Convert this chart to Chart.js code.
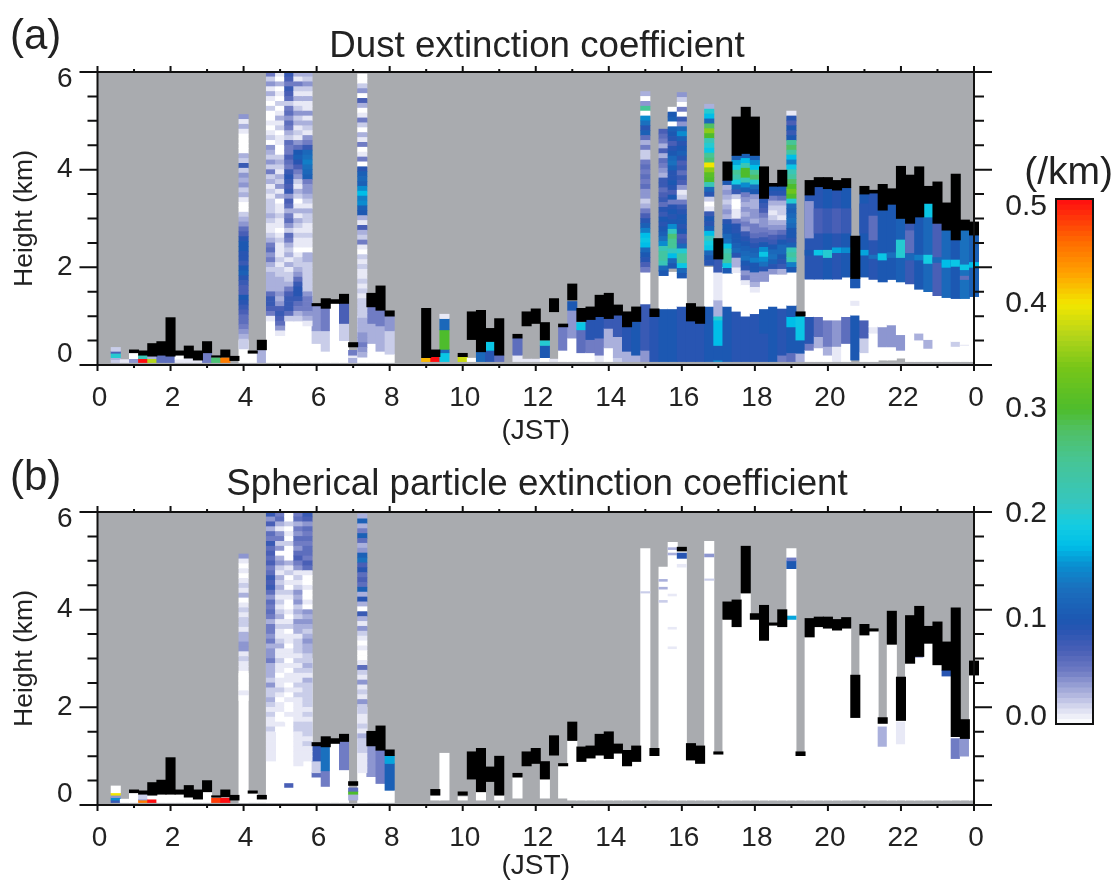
<!DOCTYPE html>
<html>
<head>
<meta charset="utf-8">
<title>Dust and spherical particle extinction</title>
<script src="https://cdn.jsdelivr.net/npm/chart.js@4"></script>
<style>
html, body { margin: 0; padding: 0; background: #fff; overflow: hidden; }
canvas { position: absolute; filter: blur(0.6px); }
</style>
</head>
<body>
<canvas id="panelA" style="left:0;top:0"></canvas>
<canvas id="panelB" style="left:0;top:440px"></canvas>
<canvas id="scaleBar" style="left:1000px;top:150px"></canvas>
<script>
// extinction values are in 0.01 /km, columns are quarter hours (col 16 = 4 JST), heights in km
const yTicks = [0, 2, 4, 6];
const scaleLabels = [0, 0.1, 0.2, 0.3, 0.4, 0.5];
const scaleLevels = [0,.5,1,1.5,2,2.5,3,3.5,4,4.5,5,5.5,6,6.5,7,7.5,8,8.5,9,9.5,10,10.5,11,11.5,12,12.5,13,13.5,14,14.5,15,15.5,16,16.5,17,17.5,18,18.5,19,19.5,20,20.5,21,21.5,22,22.5,23,23.5,24,24.5,25,25.5,26,26.5,27,27.5,28,28.5,29,29.5,30,30.5,31,31.5,32,32.5,33,33.5,34,34.5,35,35.5,36,36.5,37,37.5,38,38.5,39,39.5,40,40.5,41,41.5,42,42.5,43,43.5,44,44.5,45,45.5,46,46.5,47,47.5,48,48.5,49,49.5];

// [col, bottom, top]
const dustClouds = [[4,.25,.31],[5,.2,.29],[6,.18,.44],[7,.2,.48],[8,.18,.97],[9,.2,.29],[10,.14,.39],[11,.1,.29],[12,.25,.48],[13,.16,.19],[14,.16,.31],[15,.09,.18],[17,.24,.29],[18,.31,.51],
[24,1.21,1.26],[25,1.16,1.36],[26,1.26,1.34],[27,1.26,1.45],[28,.37,.46],[30,1.19,1.47],[31,1.12,1.62],[32,1,1.11],[36,.15,1.16],[37,.17,.31],[40,.17,.24],[41,.52,1.09],[42,.27,1.12],[43,.48,.75],[44,.2,.95],
[46,.55,.63],[47,.8,1.09],[48,.85,1.15],[49,.51,.87],[50,1.09,1.36],[51,.78,.84],[52,1.33,1.66],[53,.89,1.16],[54,.93,1.19],[55,.99,1.43],[56,.95,1.47],[57,1.02,1.23],[58,.78,1.09],[59,.89,1.19],[61,.99,1.15],
[65,.9,1.26],[66,.85,1.19],[68,2.17,2.59],[69,3.78,4.16],[70,4.29,5.08],[71,4.33,5.28],[72,4.29,5.08],[73,3.41,4.06],[74,3.66,3.72],[75,3.66,3.99],[77,1,1.09],[78,3.48,3.78],[79,3.65,3.84],[80,3.61,3.84],[81,3.58,3.78],[82,3.63,3.82],
[83,1.77,2.64],[84,3.5,3.66],[85,3.52,3.58],[86,3.17,3.7],[87,3.29,3.61],[88,3,4.07],[89,2.9,3.89],[90,3.03,4.06],[91,3.31,3.66],[92,2.9,3.75],[93,2.76,3.32],[94,2.56,3.91],[95,2.76,2.97],[96,2.66,2.93]];

// [col, bottom, top, value]
const dustLayers = [
[2,.05,.11,2],[2,.11,.15,3],[2,.15,.24,20],[2,.24,.28,7],[2,.28,.36,2],[3,.05,.11,1],[4,.05,.13,4],[4,.13,.25,0],[5,.05,.13,50],[5,.13,.2,22],[6,.05,.13,37],[6,.13,.18,3],[7,.05,.2,6],[8,.05,.18,6],[9,.05,.12,1],[9,.12,.2,0],[10,.05,.14,1],[11,.05,.1,1],
[12,.05,.25,5],[13,.05,.15,27],[14,.05,.15,45],[16,.05,.5,0],[17,.05,.24,0],[18,.05,.31,3],
[19,.05,1.5,0],[20,.05,1.5,0],[21,.05,1.5,0],[22,.05,1.5,0],[23,.05,1.5,0],
[24,.05,.44,0],[24,.44,.7,2],[24,.7,1.21,4],[25,.05,.28,0],[25,.28,.7,2],[25,.7,1.16,5],[26,.05,1.26,0],[27,.05,.5,0],[27,.5,.85,2],[27,.85,1.26,7],[28,.05,.15,3],[28,.15,.2,1],[28,.2,.3,5],[29,.05,1,0],
[30,.05,.44,0],[30,.44,.85,3],[30,.85,1.19,5],[31,.05,.28,0],[31,.28,.8,3],[31,.8,1.12,5],[32,.05,.22,0],[32,.22,.7,2],[32,.7,1,4],
[36,.07,.15,42],[37,.07,.17,50],[38,.07,.25,18],[38,.25,.32,12],[38,.32,.72,30],[38,.72,.95,12],[38,.95,1.04,1],[40,.07,.17,38],[41,.07,.14,0],[42,.07,.27,12],[43,.07,.3,9],[43,.3,.48,18],[44,.07,.2,6],
[46,.07,.2,1],[46,.2,.55,6],[47,.07,.12,1],[48,.07,.12,1],[49,.07,.15,0],[49,.15,.4,10],[49,.4,.5,20],[50,.07,.12,1],[51,.07,.3,0],[51,.3,.78,5],[52,.07,.55,0],[52,.55,1.12,4],[52,1.12,1.3,10],
[53,.07,.25,0],[53,.25,.72,6],[53,.72,.87,18],[54,.07,.25,0],[54,.25,.52,5],[54,.52,.93,9],[55,.07,.2,1],[55,.2,.55,5],[55,.55,.99,9],[56,.07,.35,0],[56,.35,.75,3],[56,.75,.95,8],[57,.07,.15,2],[57,.15,.58,3],[57,.58,1.02,8],[58,.07,.28,3],[58,.28,.78,9],[59,.07,.2,3],[59,.2,.89,10],
[60,.07,.3,4],[60,.3,1.25,8],[60,1.25,1.9,0],[61,.07,.99,9],[62,.07,1.15,10],[62,1.15,1.9,0],[63,.07,1.15,10],[63,1.15,1.9,0],[64,.07,1.2,9],[64,1.2,1.9,0],[65,.07,.9,9],[66,.07,.85,9],
[67,.07,1.2,10],[67,1.2,2,0],[68,.07,.1,15],[68,.1,.4,10],[68,.4,.92,17],[68,.92,1,20],[68,1,1.33,3],[68,1.33,1.9,1],[68,1.9,2.17,8],
[69,.07,1.2,10],[69,1.2,2,0],[70,.07,1.1,9],[70,1.1,1.9,0],[71,.07,1,9],[71,1,2,0],[72,.07,1.05,9],[72,1.05,1.9,0],[73,.07,.65,9],[73,.65,1.15,10],[73,1.15,1.95,0],[74,.07,1.2,10],[74,1.2,1.9,0],[75,.07,.2,5],[75,.2,1.16,9],[75,1.16,1.85,0],
[76,.07,.25,6],[76,.25,.78,10],[76,.78,.99,17],[76,.99,1.22,10],[76,1.22,1.9,0],[77,.07,.24,3],[77,.24,.51,10],[77,.51,1,18],
[78,.07,.3,0],[78,.3,.44,5],[78,.44,.99,9],[78,.99,1.76,0],[79,.07,.35,0],[79,.35,.58,3],[79,.58,.99,6],[79,.99,1.76,0],[80,.07,.2,0],[80,.2,.38,3],[80,.38,.92,5],[80,.92,1.76,0],[81,.07,.38,1],[81,.38,.92,4],[81,.92,1.76,0],[82,.07,.44,0],[82,.44,.99,6],[82,.99,1.8,0],
[83,.1,1.02,10],[83,1.02,1.22,0],[83,1.22,1.32,1],[83,1.32,1.58,0],[83,1.58,1.77,10],[84,.07,.25,0],[84,.25,.55,2],[84,.55,.92,7],[84,.92,1.8,0],[85,.07,.65,0],[85,.65,.78,1],[85,.78,1.75,0],
[86,.1,.37,0],[86,.37,.78,4],[86,.78,1.7,0],[87,.1,.37,0],[87,.37,.82,4],[87,.82,1.75,0],[88,.14,.3,0],[88,.3,.62,4],[88,.62,1.7,0],[89,.07,1.66,0],[90,.07,.51,0],[90,.51,.65,3],[90,.65,1.55,0],[91,.07,.34,0],[91,.34,.52,3],[91,.52,1.5,0],[92,.07,1.42,0],[93,.07,1.38,0],[94,.07,.38,0],[94,.38,.48,2],[94,.48,1.36,0],[95,.07,.4,0],[95,.4,.42,1],[95,.42,1.36,0],[96,.07,1.4,0],
[78,1.76,3.48,9],[78,2.6,3.35,4],[78,2.25,2.35,10],[79,1.76,3.65,9],[79,2.7,3.2,7],[79,2.25,2.35,18],[80,1.76,3.61,10],[80,2.7,3.2,8],[80,2.2,2.35,20],[81,1.76,3.58,9],[81,2.7,3.2,7],[81,2.3,2.4,16],[82,1.8,3.63,10],[82,2.7,3.2,8],[82,2.3,2.4,15],[83,1.58,1.77,10],[84,1.8,3.5,10],[84,2.7,3.3,9],[84,2.25,2.35,16],[85,1.75,3.52,9],[85,2.56,3.05,6],[85,2.18,2.25,13],
[86,1.7,3.17,10],[86,2.15,2.28,18],[87,1.75,3.29,10],[87,2.2,2.3,13],[88,1.7,3,11],[88,2.2,2.56,20],[89,1.66,2.9,8],[89,2.3,2.75,6],[89,2.15,2.28,12],[90,1.55,3.03,10],[90,2.15,2.25,14],[91,1.5,3.31,12],[91,2.08,2.25,19],[91,3.03,3.3,18],[92,1.42,2.9,7],[92,2.1,2.2,12],[93,1.38,2.76,12],[93,2,2.15,17],[94,1.36,2.56,10],[94,2.02,2.15,18],[95,1.36,2.76,13],[95,1.95,2.05,18],[95,1.75,1.82,6],[96,1.4,2.66,11],[96,2,2.1,17]];

// noisy columns, read downward from the top height in rows of 0.1 km
const dustCol16 = [4,1,3,1,0,0,0,0,3,2,8,2,4,3,4,2,3,1,0,0,2,3,4,6,7,9,10,10,9,9,8,10,11,9,8,7,7,10,9,8,7,6,6,5,4,3,2,2];
const dustCol19 = [5,2,4,1,3,1,0,2,0,0,1,0,1,2,0,4,3,2,4,2,5,2,3,1,2,1,2,2,2,3,2,1,1,2,3,5,6,4,5,3,2,3,3,3,3,6,8,8,7,5,1];
const dustCol20 = [1,0,3,0,1,0,2,0,1,3,1,2,0,1,1,0,0,2,3,2,1,3,2,4,1,3,0,1,1,2,1,1,0,1,2,1,1,1,2,1,2,2,3,3,3,4,3,4,7,8,7,6,4,1];
const dustCol21 = [8,7,5,8,7,6,2,5,6,4,6,5,3,2,6,5,5,7,6,5,8,9,8,7,8,4,7,6,3,5,6,4,2,6,5,3,2,3,1,3,1,2,2,3,5,7,8,8,8,6,2];
const dustCol22 = [3,1,5,2,1,3,1,2,4,2,3,1,2,1,4,6,10,11,9,7,5,4,2,1,3,2,0,1,3,1,3,2,1,2,1,1,0,1,2,2,3,4,6,8,9,9,8,6,5,3,2];
const dustCol23 = [3,2,4,2,1,3,1,1,4,1,3,2,1,4,5,8,12,13,14,13,12,11,5,4,4,3,2,1,3,2,2,1,1,2,1,1,0,3,3,2,2,2,2,2,2,4,5,5,5,4,3,1];
const dustCol29 = [0,0,2,4,0,7,3,0,1,5,2,0,3,1,5,0,1,5,0,9,11,12,11,15,17,14,15,11,10,3,1,7,3,2,5,1,0,2,1,2,1,1,2,1,2,1,2,2,2,2,3,3,3,4,4,5,4,3];
const dustCol60 = [3,0,4,25,0,15,13,9,11,6,3,5,2,2,5,6,5,6,5,6,4,4,2,3,5,7,9,11,14,17,18,17,12,10,9,7,5];
const dustCol62 = [7,6,5,3,7,3,6,5,4,3,8,8,6,7,8,6,9,8,10,9,10,11,13,15,22,24,24,22,12,10];
const dustCol63 = [0,10,11,0,11,10,9,7,9,10,12,13,11,9,9,10,9,7,10,5,9,10,9,10,15,21,27,25,25,21,17,12,10];
const dustCol64 = [4,2,0,5,0,8,4,12,15,11,9,10,11,9,7,8,6,8,7,4,1,2,5,8,9,10,10,9,10,7,8,12,20,24,24,18,12,10];
const dustCol67 = [3,20,17,12,28,35,30,22,20,18,25,27,40,35,31,30,22,12,9,2,0,1,8,10,9,11,17,21,19,18,12,10,9];
const dustCol69 = [10,3,4,3,2,3,4,3,9,10,10,12,13,18,22,24,24,18,10];
const dustCol70 = [11,16,19,25,23,19,12,8,2,0,0,1,1,5,9,9,10,10,11,12,9,3,3,1];
const dustCol71 = [11,17,22,30,30,22,15,11,5,4,3,4,3,4,5,4,8,9,10,11,12,13,10,9,4,5,1,0];
const dustCol72 = [11,15,17,25,28,20,13,10,4,3,3,4,4,3,5,5,6,8,9,11,12,14,10,10,4,4,3,1];
const dustCol73 = [9,8,7,5,4,4,5,6,8,10,15,18,15,13,9,4,4];
const dustCol74 = [10,9,5,3,2,1,2,3,4,5,7,8,10,12,13,11,9,4];
const dustCol75 = [10,9,6,3,2,2,1,3,4,6,8,10,12,12,10,9,8,3];
const dustCol76 = [1,9,7,10,8,10,25,28,24,17,14,18,22,24,28,30,33,30,20,12,11,12,13,12,10,10,9,11,22,24,22,14,10];
const dustProfiles = [[16,5.13,dustCol16],[19,6,dustCol19],[20,6,dustCol20],[21,6,dustCol21],[22,6,dustCol22],[23,6,dustCol23],[29,5.96,dustCol29],[60,5.6,dustCol60],[62,4.83,dustCol62],[63,5.28,dustCol63],[64,5.58,dustCol64],[67,5.34,dustCol67],[69,3.78,dustCol69],[70,4.29,dustCol70],[71,4.33,dustCol71],[72,4.29,dustCol72],[73,3.41,dustCol73],[74,3.66,dustCol74],[75,3.66,dustCol75],[76,5.2,dustCol76]];

const sphereClouds = [[4,.25,.31],[5,.22,.29],[6,.2,.46],[7,.22,.51],[8,.22,.97],[9,.22,.31],[10,.16,.4],[11,.12,.31],[12,.27,.5],[13,.16,.19],[14,.17,.31],[15,.1,.2],[17,.24,.29],[18,.12,.2],
[24,1.21,1.28],[25,1.19,1.4],[26,1.26,1.36],[27,1.3,1.45],[28,.4,.48],[30,1.21,1.51],[31,1.12,1.62],[32,1.01,1.13],[37,.2,.32],[40,.2,.27],[41,.53,1.09],[42,.27,1.16],[43,.48,.78],[44,.2,1],
[46,.57,.65],[47,.8,1.09],[48,.85,1.16],[49,.53,.89],[50,1.02,1.42],[51,.8,.85],[52,1.32,1.7],[53,.89,1.19],[54,.96,1.21],[55,1.02,1.45],[56,.95,1.5],[57,1.06,1.25],[58,.8,1.12],[59,.89,1.21],[61,1.01,1.16],[64,5.2,5.28],
[65,.92,1.26],[66,.85,1.21],[68,1.04,1.09],[69,3.8,4.16],[70,3.65,4.2],[71,4.34,5.3],[72,3.8,3.92],[73,3.37,4.09],[74,3.68,3.73],[75,3.65,4],[77,1.01,1.09],[78,3.44,3.82],[79,3.65,3.85],[80,3.62,3.85],[81,3.58,3.8],[82,3.62,3.84],
[83,1.79,2.66],[84,3.48,3.7],[85,3.56,3.61],[86,1.67,1.79],[87,3.29,3.97],[88,1.73,2.62],[89,2.9,3.88],[90,3.04,4.07],[91,3.31,3.66],[92,2.87,3.75],[93,2.76,3.34],[94,1.4,4.04],[95,1.36,1.75],[96,2.66,2.95]];

const sphereLayers = [
[2,.05,.1,8],[2,.1,.15,15],[2,.15,.2,4],[2,.2,.25,40],[2,.25,.39,0],[3,.05,.12,0],[4,.05,.25,0],[5,.05,.1,45],[5,.1,.12,4],[5,.12,.22,2],[6,.05,.12,50],[6,.12,.2,0],[7,.05,.22,0],[8,.05,.22,0],[9,.05,.22,0],[10,.05,.16,0],[11,.05,.12,0],[12,.05,.27,0],[13,.05,.14,48],[14,.05,.14,50],[16,.05,2.7,0],[17,.05,.24,0],[18,.05,.12,0],
[19,.05,3,0],[20,.05,3,0],[21,.05,3,0],[21,.36,.44,7],[22,.05,3,0],[23,.05,3,0],[29,.05,2,0],
[24,.05,.57,0],[24,.57,.66,6],[24,.66,.9,2],[24,.9,1.21,8],[25,.05,.38,0],[25,.38,.7,5],[25,.7,1.19,13],[26,.05,1.26,0],[27,.05,.72,0],[27,.72,1.3,5],[28,.1,.22,3],[28,.22,.28,30],[28,.28,.35,6],[30,.05,.58,0],[30,.58,1.21,4],[31,.05,.44,0],[31,.44,1.12,5],[32,.05,.3,0],[32,.3,.85,11],[32,.85,1.01,16],
[37,.1,.2,0],[38,.1,1.06,0],[40,.1,.17,0],[42,.1,.27,0],[44,.1,.2,0],[46,.14,.57,0],[49,.14,.53,0],
[51,.14,.8,0],[52,.1,1.32,0],[53,.1,.89,0],[54,.1,.96,0],[55,.1,1.02,0],[56,.1,.95,0],[57,.1,1.06,0],[58,.1,.8,0],[59,.1,.89,0],
[60,.1,5.25,0],[60,4.34,4.37,2],[61,.1,1.01,0],[62,.1,4.87,0],[62,4.58,4.62,3],[62,4.42,4.46,3],[62,4.15,4.19,2],[63,.1,5.38,0],[63,5.12,5.16,3],[63,5.23,5.27,3],[63,4.28,4.32,1],[63,3.6,3.64,1],[63,3.2,3.24,1],[64,.1,5.2,0],[64,5.05,5.16,9],[64,4.87,4.93,1],
[65,.1,.92,0],[66,.1,.85,0],[67,.1,5.4,0],[67,5.08,5.14,4],[67,4.6,4.63,2],[68,.1,1.04,0],[69,.1,3.8,0],[70,.1,3.65,0],[71,.1,4.34,0],[72,.1,3.8,0],[73,.1,3.37,0],[74,.1,3.68,0],[75,.1,3.65,0],
[76,.1,5.25,0],[76,4.84,5,10],[76,5,5.06,5],[76,3.8,3.87,16],[77,.1,1.01,0],[78,.1,3.44,0],[79,.1,3.65,0],[80,.1,3.62,0],[81,.1,3.58,0],[82,.1,3.62,0],[83,.1,1.79,0],[84,.1,3.48,0],[85,.1,3.56,0],
[86,.1,1.67,0],[86,1.2,1.6,3],[87,.1,3.29,0],[88,.1,1.73,0],[88,1.25,1.7,1],[89,.1,2.9,0],[90,.1,3.04,0],[90,3.02,3.1,3],[91,.1,3.31,0],[92,.1,2.87,0],[93,.1,2.76,0],[93,2.64,2.76,9],[94,.1,1.4,0],[94,.95,1.36,5],[95,.1,1.36,0],[95,1,1.36,4],[96,.1,2.66,0]];

const sphereCol16 = [4,1,0,1,0,1,2,1,3,0,1,2,1,2,2,1,3,3,4,4,1,2,1,1,0,0,0,0,1,0];
const sphereCol19 = [8,4,7,3,6,5,8,6,7,6,7,5,6,8,7,8,6,4,6,5,6,5,3,5,5,4,5,3,4,4,5,3,3,3,2,4,2,2,3,2,1,2,1,1,2,1,1,1,1,1,1];
const sphereCol20 = [5,6,3,1,4,5,2,4,0,3,4,2,1,3,2,3,2,1,2,1,2,3,1,2,1,1,2,3,1,1,2,1,1,0,1,1,2,1,0,1,1,0,0,1,0];
const sphereCol21 = [0,0,2,0,1,0,2,0,0,0,3,1,2,0,1,0,2,1,0,0,1,0,1,2,0,1,1,0,1,1,0,1,0,1,1,0,1,0,1,0,0,1,0];
const sphereCol22 = [5,6,3,5,4,6,5,4,6,7,5,4,1,2,1,2,4,3,4,2,3,2,4,3,3,1,2,2,2,1,2,1,2,1,1,2,1,2,1,1,1,1,1,2,2,1,1,1,1,1,1,1];
const sphereCol23 = [8,7,4,6,5,6,5,6,6,5,7,6,1,0,0,1,0,0,1,0,4,3,4,3,2,3,4,3,3,2,2,3,2,1,3,2,2,2,2,2,1,2,1,2,2,2,1,2,1,1,1];
const sphereCol29 = [3,11,3,5,11,6,3,4,11,13,7,9,6,7,6,11,3,9,3,0,8,3,1,4,2,1,0,1,0,0,1,6,2,1,4,1,2,1,4,2,2,1,1,2,1,3,2,2,2,1,1,1,1];
const sphereProfiles = [[16,5.14,sphereCol16],[19,6,sphereCol19],[20,6,sphereCol20],[21,6,sphereCol21],[22,6,sphereCol22],[23,6,sphereCol23],[29,5.96,sphereCol29]];

const colorStops = [[0,240,240,250],[0.01,255,255,255],[1,232,233,246],[3,170,176,220],[5,112,124,196],[7,73,95,182],[9,40,85,178],[10,28,88,178],[13,26,112,190],[15,10,140,207],[17,0,190,232],[19,20,205,225],[21,53,198,192],[25,70,197,150],[28,80,192,100],[30,78,188,44],[34,120,198,24],[37,180,213,26],[40,242,230,0],[43,255,160,0],[46,255,106,0],[50,255,13,16]];

function colorOf(v) {
    if (v < 0) return '#000000';
    if (v === 0) return '#ffffff';
    for (let k = 1; k < colorStops.length; k++) {
        const a = colorStops[k - 1], b = colorStops[k];
        if (v <= b[0]) {
            const f = (v - a[0]) / (b[0] - a[0]);
            const mix = n => Math.round(a[n] + (b[n] - a[n]) * f);
            return 'rgb(' + mix(1) + ',' + mix(2) + ',' + mix(3) + ')';
        }
    }
    return 'rgb(255,13,16)';
}

function cloudBars(list) {
    return list.map(c => ({ x: c[0] / 4, y: [c[1], c[2]], v: -1 }));
}
function layerBars(list) {
    return list.map(c => ({ x: c[0] / 4, y: [c[1], c[2]], v: c[3] }));
}
function profileBars(list) {
    const bars = [];
    list.forEach(p => {
        p[2].forEach((v, n) => {
            bars.push({ x: p[0] / 4, y: [p[1] - (n + 1) * 0.1, p[1] - n * 0.1], v: v });
        });
    });
    return bars;
}

const frame = {
    id: 'frame',
    beforeDatasetsDraw(chart) {
        const a = chart.chartArea, c = chart.ctx;
        c.fillStyle = '#a9abaf';
        c.fillRect(a.left, a.top, a.width, a.height);
    },
    afterDatasetsDraw(chart) {
        const a = chart.chartArea, c = chart.ctx, xs = chart.scales.x, ys = chart.scales.y;
        c.save();
        c.strokeStyle = '#111';
        c.lineWidth = 2;
        c.beginPath();
        c.rect(a.left, a.top, a.width, a.height);
        for (let h = 0; h <= 24; h++) {
            const px = xs.getPixelForValue(h), len = h % 2 ? 3 : 6;
            c.moveTo(px, a.top); c.lineTo(px, a.top - len);
            c.moveTo(px, a.bottom); c.lineTo(px, a.bottom + len);
        }
        for (let k = 0; k <= 12; k++) {
            const py = ys.getPixelForValue(k / 2), len = k % 4 ? 10 : 18;
            c.moveTo(a.left, py); c.lineTo(a.left - len, py);
            c.moveTo(a.right, py); c.lineTo(a.right + len, py);
        }
        c.stroke();
        c.fillStyle = '#222';
        c.font = '42px "Liberation Sans"';
        c.textBaseline = 'middle';
        c.textAlign = 'left';
        c.fillText(chart.options.plugins.frame.tag, 10, chart.options.plugins.frame.tagY);
        c.restore();
    }
};

function panel(id, title, titlePad, axisH, clouds, layers, profiles, tag, tagY) {
    const el = document.getElementById(id);
    el.width = 1074;
    el.height = 72 + 293 + axisH;
    el.style.width = '1074px';
    el.style.height = el.height + 'px';
    const bar = { grouped: false, barThickness: 9.4, borderWidth: 0, borderSkipped: false, clip: false,
        backgroundColor: ctx => colorOf(ctx.raw.v) };
    return new Chart(el, {
        type: 'bar',
        data: { datasets: [
            Object.assign({ label: 'Cloud', data: cloudBars(clouds) }, bar),
            Object.assign({ label: 'Profiles', data: profileBars(profiles) }, bar),
            Object.assign({ label: 'Layers', data: layerBars(layers) }, bar)
        ] },
        plugins: [frame],
        options: {
            responsive: false,
            animation: false,
            layout: { autoPadding: false },
            scales: {
                x: { type: 'linear', min: 0, max: 24, offset: false,
                    afterFit: s => { s.height = axisH; },
                    grid: { display: false, drawTicks: false }, border: { display: false },
                    ticks: { stepSize: 1, autoSkip: false, maxRotation: 0, padding: 16, labelOffset: 2, color: '#222',
                        font: { family: 'Liberation Sans', size: 28 },
                        callback: v => v % 2 ? '' : String(v % 24) },
                    title: { display: true, text: '(JST)', color: '#222', padding: { top: 0, bottom: 1 },
                        font: { family: 'Liberation Sans', size: 28 } } },
                y: { min: 0, max: 6,
                    afterFit: s => { s.width = 97.5; },
                    grid: { display: false, drawTicks: false }, border: { display: false },
                    ticks: { stepSize: 0.5, autoSkip: false, padding: 25, color: '#222',
                        font: { family: 'Liberation Sans', size: 28, lineHeight: 0.25 },
                        callback: v => {
                            if (!yTicks.includes(v)) return '';
                            if (v === 0) return ['0', '', '', ''];
                            if (v === 6) return ['', '', '6'];
                            return String(v);
                        } },
                    title: { display: true, text: 'Height (km)', color: '#222', padding: { top: 9, bottom: 0 },
                        font: { family: 'Liberation Sans', size: 26.5 } } },
                yRight: { position: 'right', min: 0, max: 6,
                    afterFit: s => { s.width = 100; },
                    grid: { display: false, drawTicks: false }, border: { display: false },
                    ticks: { display: false } }
            },
            plugins: {
                legend: { display: false },
                tooltip: { enabled: false },
                title: { display: true, text: title, color: '#222', padding: titlePad,
                    font: { family: 'Liberation Sans', size: 36.7, weight: 'normal', lineHeight: 1 } },
                frame: { tag: tag, tagY: tagY }
            }
        }
    });
}

panel('panelA', 'Dust extinction coefficient', { top: 29, bottom: 6.3 }, 84, dustClouds, dustLayers, dustProfiles, '(a)', 37);
panel('panelB', 'Spherical particle extinction coefficient', { top: 27, bottom: 8.3 }, 79, sphereClouds, sphereLayers, sphereProfiles, '(b)', 38);

// colour scale on the right
const barEl = document.getElementById('scaleBar');
barEl.width = 113;
barEl.height = 599;
barEl.style.width = '113px';
barEl.style.height = '599px';
new Chart(barEl, {
    type: 'bar',
    data: { datasets: [{
        label: 'Extinction (/km)',
        data: scaleLevels.map(v => ({ x: 0, y: [v / 100, (v + 0.7) / 100], v: v + 0.25 })),
        grouped: false, barThickness: 37, borderWidth: 0, borderSkipped: false,
        backgroundColor: ctx => colorOf(ctx.raw.v)
    }] },
    plugins: [{
        id: 'barBorder',
        afterDatasetsDraw(chart) {
            const a = chart.chartArea, c = chart.ctx;
            c.save();
            c.strokeStyle = '#111';
            c.lineWidth = 2;
            c.strokeRect(a.left, a.top, a.width, a.height);
            c.restore();
        }
    }],
    options: {
        responsive: false,
        animation: false,
        layout: { autoPadding: false },
        scales: {
            x: { type: 'linear', min: -0.5, max: 0.5,
                afterFit: s => { s.height = 25; },
                grid: { display: false, drawTicks: false }, border: { display: false }, ticks: { display: false } },
            y: { min: 0, max: 0.5,
                afterFit: s => { s.width = 56; },
                grid: { display: false, drawTicks: false }, border: { display: false },
                afterBuildTicks: s => { s.ticks = scaleLabels.map(v => ({ value: v })); },
                ticks: { padding: 9, color: '#222', font: { family: 'Liberation Sans', size: 30, lineHeight: 0.25 },
                    callback: v => {
                        if (v === 0) return ['0.0', '', ''];
                        if (v === 0.5) return ['', '', '0.5'];
                        return v.toFixed(1);
                    } }
            },
            yRight: { position: 'right', min: 0, max: 0.5,
                afterFit: s => { s.width = 20; },
                grid: { display: false, drawTicks: false }, border: { display: false }, ticks: { display: false } }
        },
        plugins: {
            legend: { display: false },
            tooltip: { enabled: false },
            title: { display: true, text: '(/km)', align: 'end', color: '#222', padding: { top: 4, bottom: 6 },
                font: { family: 'Liberation Sans', size: 39, weight: 'normal', lineHeight: 1 } }
        }
    }
});
</script>
</body>
</html>
